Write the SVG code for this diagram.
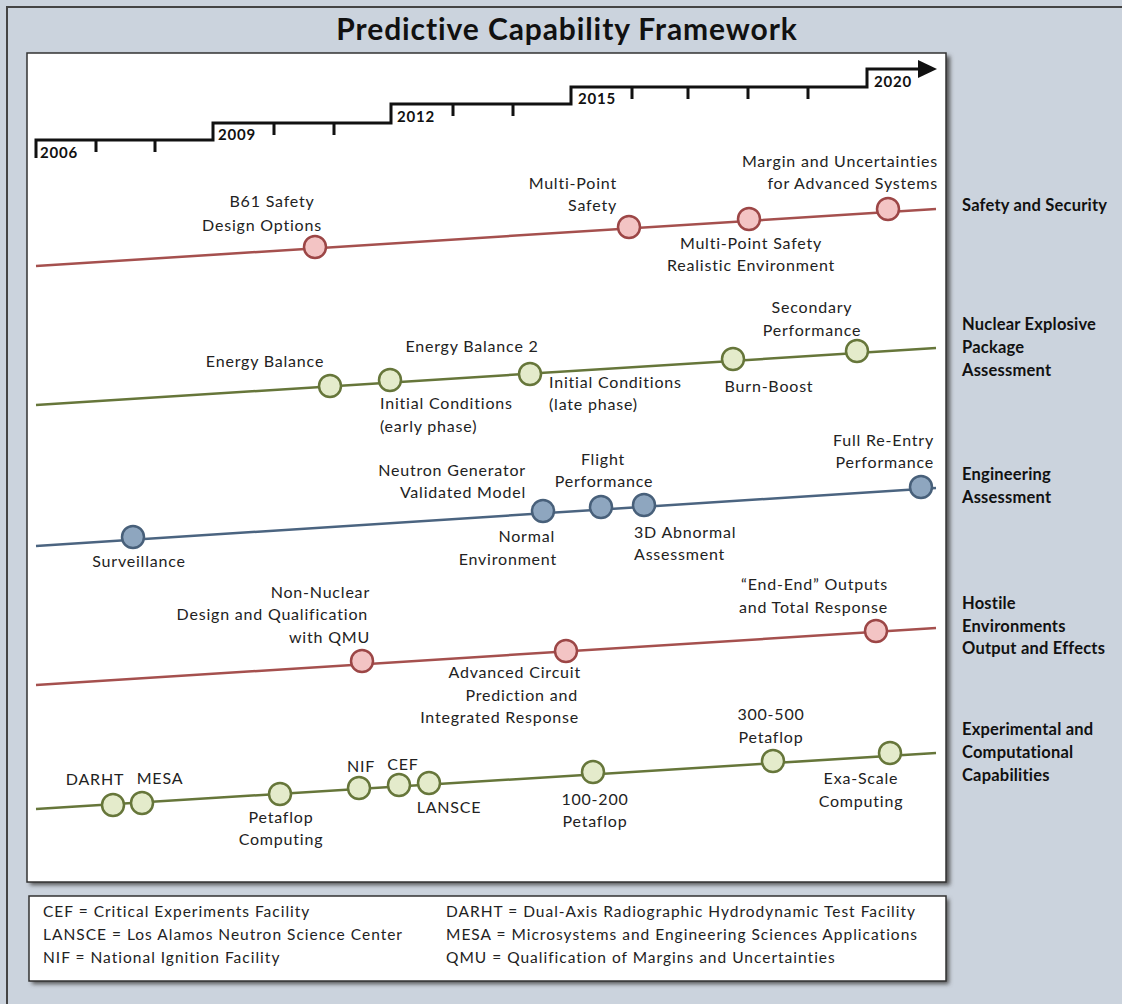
<svg xmlns="http://www.w3.org/2000/svg" width="1122" height="1004" viewBox="0 0 1122 1004">
<style>
.title{font-family:Lato,"Liberation Sans",sans-serif;font-weight:bold;font-size:30px;letter-spacing:0.9px;fill:#111}
.yr{font-family:Lato,"Liberation Sans",sans-serif;font-weight:bold;font-size:15px;letter-spacing:0.8px;fill:#111}
.lbl{font-family:Lato,"Liberation Sans",sans-serif;font-size:16px;letter-spacing:0.8px;fill:#222}
.row{font-family:Lato,"Liberation Sans",sans-serif;font-weight:bold;font-size:16.5px;letter-spacing:0.2px;fill:#111}
.leg{font-family:Lato,"Liberation Sans",sans-serif;font-size:15.5px;letter-spacing:1px;fill:#222}
.tl{stroke:#111;stroke-width:3;fill:none}
.red{stroke:#a5504e;stroke-width:2.5;fill:none}
.grn{stroke:#66763a;stroke-width:2.5;fill:none}
.blu{stroke:#4b6480;stroke-width:2.5;fill:none}
.nr{fill:#f3c4c4;stroke:#9c4646;stroke-width:2.5}
.ng{fill:#e4ebcb;stroke:#66763a;stroke-width:2.5}
.nb{fill:#8ea6bf;stroke:#48607a;stroke-width:2.5}
.m{text-anchor:middle}
.e{text-anchor:end}
</style>
<defs>
<filter id="sh" x="-5%" y="-5%" width="110%" height="110%">
<feGaussianBlur stdDeviation="2"/>
</filter>
</defs>
<rect x="0" y="0" width="1122" height="1004" fill="#cbd3dd"/>
<path d="M7 1004 V7 H1122" stroke="#444" stroke-width="2" fill="none"/>
<text class="title m" x="567" y="40">Predictive Capability Framework</text>

<rect x="30" y="56" width="920" height="829" fill="#555" filter="url(#sh)"/>
<rect x="27" y="53" width="919" height="829" fill="#fff" stroke="#333" stroke-width="1.5"/>
<rect x="32" y="899" width="917" height="85" fill="#555" filter="url(#sh)"/>
<rect x="29" y="896" width="917" height="85" fill="#fff" stroke="#333" stroke-width="1.5"/>

<g id="timeline">
<path class="tl" d="M36 158 V140 H213 V123 H391 V104 H571 V87 H867 V69 H920"/>
<path class="tl" d="M96 140 V152 M155 140 V152 M274 123 V135 M334 123 V135 M453 104 V116 M513 104 V116 M632 87 V99 M688 87 V99 M748 87 V99 M808 87 V99"/>
<polygon points="918,60 937,69 918,78" fill="#111"/>
<text class="yr" x="40" y="158">2006</text>
<text class="yr" x="218" y="140">2009</text>
<text class="yr" x="397" y="122">2012</text>
<text class="yr" x="578" y="104">2015</text>
<text class="yr" x="874" y="87">2020</text>
</g>

<g id="connectors">
<line class="red" x1="36" y1="266" x2="936" y2="209"/>
<line class="grn" x1="36" y1="405" x2="936" y2="348"/>
<line class="blu" x1="36" y1="546" x2="936" y2="488"/>
<line class="red" x1="36" y1="685" x2="936" y2="628"/>
<line class="grn" x1="36" y1="809" x2="936" y2="753"/>
</g>

<g id="row-safety">
<text class="row" x="962" y="211">Safety and Security</text>
</g>
<g id="n-b61"><circle class="nr" cx="315" cy="247" r="11"/><text class="lbl m" x="272" y="207">B61 Safety</text><text class="lbl m" x="262" y="231">Design Options</text></g>
<g id="n-mps"><circle class="nr" cx="629" cy="227" r="11"/><text class="lbl e" x="617" y="189">Multi-Point</text><text class="lbl e" x="617" y="211">Safety</text></g>
<g id="n-mpsre"><circle class="nr" cx="749" cy="219" r="11"/><text class="lbl m" x="751" y="249">Multi-Point Safety</text><text class="lbl m" x="751" y="271">Realistic Environment</text></g>
<g id="n-margin"><circle class="nr" cx="888" cy="209" r="11"/><text class="lbl e" x="938" y="167">Margin and Uncertainties</text><text class="lbl e" x="938" y="189">for Advanced Systems</text></g>

<g id="row-nep">
<text class="row" x="962" y="330">Nuclear Explosive</text>
<text class="row" x="962" y="353">Package</text>
<text class="row" x="962" y="376">Assessment</text>
</g>
<g id="n-eb"><circle class="ng" cx="330" cy="386" r="11"/><text class="lbl m" x="265" y="367">Energy Balance</text></g>
<g id="n-ice"><circle class="ng" cx="390" cy="380" r="11"/><text class="lbl" x="380" y="409">Initial Conditions</text><text class="lbl" x="380" y="432">(early phase)</text></g>
<g id="n-eb2"><circle class="ng" cx="530" cy="374" r="11"/><text class="lbl m" x="472" y="352">Energy Balance 2</text></g>
<g id="n-icl"><text class="lbl" x="549" y="388">Initial Conditions</text><text class="lbl" x="549" y="410">(late phase)</text></g>
<g id="n-bb"><circle class="ng" cx="733" cy="359" r="11"/><text class="lbl m" x="769" y="392">Burn-Boost</text></g>
<g id="n-sp"><circle class="ng" cx="857" cy="351" r="11"/><text class="lbl m" x="812" y="313">Secondary</text><text class="lbl m" x="812" y="336">Performance</text></g>

<g id="row-eng">
<text class="row" x="962" y="480">Engineering</text>
<text class="row" x="962" y="503">Assessment</text>
</g>
<g id="n-surv"><circle class="nb" cx="133" cy="537" r="11"/><text class="lbl m" x="139" y="567">Surveillance</text></g>
<g id="n-ng"><text class="lbl e" x="526" y="476">Neutron Generator</text><text class="lbl e" x="526" y="498">Validated Model</text></g>
<g id="n-ne"><circle class="nb" cx="543" cy="511" r="11"/><text class="lbl e" x="555" y="542">Normal</text><text class="lbl e" x="557" y="565">Environment</text></g>
<g id="n-fp"><circle class="nb" cx="601" cy="507" r="11"/><text class="lbl m" x="603" y="465">Flight</text><text class="lbl m" x="604" y="487">Performance</text></g>
<g id="n-3d"><circle class="nb" cx="644" cy="505" r="11"/><text class="lbl" x="634" y="538">3D Abnormal</text><text class="lbl" x="634" y="560">Assessment</text></g>
<g id="n-fre"><circle class="nb" cx="921" cy="487" r="11"/><text class="lbl e" x="934" y="446">Full Re-Entry</text><text class="lbl e" x="934" y="468">Performance</text></g>

<g id="row-hostile">
<text class="row" x="962" y="609">Hostile</text>
<text class="row" x="962" y="632">Environments</text>
<text class="row" x="962" y="654">Output and  Effects</text>
</g>
<g id="n-nn"><circle class="nr" cx="362" cy="661" r="11"/><text class="lbl e" x="370" y="598">Non-Nuclear</text><text class="lbl e" x="368" y="620">Design and Qualification</text><text class="lbl e" x="370" y="643">with QMU</text></g>
<g id="n-ac"><circle class="nr" cx="566" cy="651" r="11"/><text class="lbl e" x="581" y="678">Advanced Circuit</text><text class="lbl e" x="578" y="701">Prediction and</text><text class="lbl e" x="579" y="723">Integrated Response</text></g>
<g id="n-ee"><circle class="nr" cx="876" cy="631" r="11"/><text class="lbl e" x="888" y="590">“End-End”  Outputs</text><text class="lbl e" x="888" y="613">and Total Response</text></g>

<g id="row-exp">
<text class="row" x="962" y="735">Experimental and</text>
<text class="row" x="962" y="758">Computational</text>
<text class="row" x="962" y="781">Capabilities</text>
</g>
<g id="n-darht"><circle class="ng" cx="113" cy="805" r="11"/><text class="lbl m" x="95" y="785">DARHT</text></g>
<g id="n-mesa"><circle class="ng" cx="142" cy="803" r="11"/><text class="lbl m" x="160" y="784">MESA</text></g>
<g id="n-pc"><circle class="ng" cx="280" cy="794" r="11"/><text class="lbl m" x="281" y="823">Petaflop</text><text class="lbl m" x="281" y="845">Computing</text></g>
<g id="n-nif"><circle class="ng" cx="359" cy="788" r="11"/><text class="lbl m" x="361" y="772">NIF</text></g>
<g id="n-cef"><circle class="ng" cx="399" cy="785" r="11"/><text class="lbl m" x="403" y="770">CEF</text></g>
<g id="n-lansce"><circle class="ng" cx="429" cy="783" r="11"/><text class="lbl m" x="449" y="813">LANSCE</text></g>
<g id="n-100"><circle class="ng" cx="593" cy="772" r="11"/><text class="lbl m" x="595" y="805">100-200</text><text class="lbl m" x="595" y="827">Petaflop</text></g>
<g id="n-300"><circle class="ng" cx="773" cy="761" r="11"/><text class="lbl m" x="771" y="720">300-500</text><text class="lbl m" x="771" y="743">Petaflop</text></g>
<g id="n-exa"><circle class="ng" cx="890" cy="753" r="11"/><text class="lbl m" x="861" y="784">Exa-Scale</text><text class="lbl m" x="861" y="807">Computing</text></g>

<g id="legend">
<text class="leg" x="43" y="917">CEF = Critical Experiments Facility</text>
<text class="leg" x="43" y="940">LANSCE = Los Alamos Neutron  Science Center</text>
<text class="leg" x="43" y="963">NIF = National Ignition Facility</text>
<text class="leg" x="446" y="917">DARHT = Dual-Axis Radiographic Hydrodynamic Test Facility</text>
<text class="leg" x="446" y="940">MESA = Microsystems and Engineering Sciences Applications</text>
<text class="leg" x="446" y="963">QMU = Qualification of Margins and Uncertainties</text>
</g>
</svg>
